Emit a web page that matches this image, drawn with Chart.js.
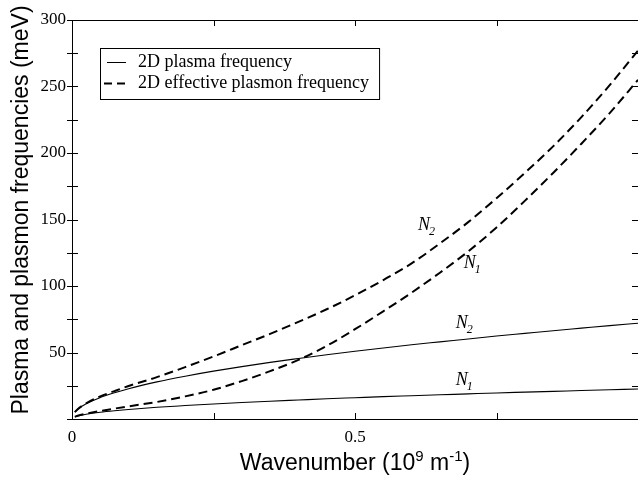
<!DOCTYPE html>
<html>
<head>
<meta charset="utf-8">
<script src="https://cdn.jsdelivr.net/npm/chart.js@4.4.1/dist/chart.umd.min.js"></script>
<style>
    html, body { margin: 0; padding: 0; background: #fff; overflow: hidden; }
    #wrap { width: 646px; height: 485px; }
</style>
</head>
<body>
<div id="wrap"><canvas id="grafica" width="646" height="485"></canvas></div>
<script>

// ============================
// DATOS
// ============================

const wavenumber = [0.005, 0.01, 0.025, 0.05, 0.075, 0.1, 0.15, 0.2, 0.25, 0.3, 0.35, 0.4,
                    0.45, 0.5, 0.55, 0.6, 0.65, 0.7, 0.75, 0.8, 0.85, 0.9, 0.95, 1.0];

// 2D plasma frequency (solid)
const plasmaN1 = [1.6, 2.3, 3.6, 5.1, 6.2, 7.1, 8.8, 10.1, 11.3, 12.4, 13.4, 14.3,
                  15.2, 16.0, 16.8, 17.5, 18.2, 18.9, 19.6, 20.2, 20.8, 21.4, 22.0, 22.6];
const plasmaN2 = [5.1, 7.2, 11.4, 16.1, 19.7, 22.8, 27.9, 32.2, 36.0, 39.4, 42.6, 45.5,
                  48.3, 50.9, 53.4, 55.8, 58.0, 60.2, 62.4, 64.4, 66.4, 68.3, 70.2, 72.0];

// 2D effective plasmon frequency (dashed)
const plasmonN1 = [1.7, 2.5, 4.0, 6.0, 7.8, 9.5, 12.8, 17.0, 22.0, 28.5, 36.0, 44.4,
                   55.0, 67.5, 81.0, 95.0, 110, 126, 144, 164, 185, 207, 230, 255];
const plasmonN2 = [5.2, 7.4, 11.8, 17.0, 21.0, 24.8, 31.5, 39.0, 47.0, 55.5, 64.0, 73.0,
                   82.5, 93.0, 104.5, 117, 132, 148, 166, 185, 205, 227, 251, 277];

const legendLabels = ["2D plasma frequency", "2D effective plasmon frequency"];

const xTicksMajor = [0, 0.5, 1];
const xTicksMinor = [0.25, 0.75];
const yTicksMajor = [0, 50, 100, 150, 200, 250, 300];
const yTicksMinor = [25, 75, 125, 175, 225, 275];
const xTickLabels = { 0: "0", 0.5: "0.5" };

const yTitle = "Plasma and plasmon frequencies (meV)";
// titulo x por partes: [texto, superindice]
const xTitle = [["Wavenumber (10", false], ["9", true], [" m", false], ["-1", true], [")", false]];

// etiquetas N sobre las curvas: [x, y, subindice]
const curveLabels = [
    [0.627, 146, "2"],
    [0.708, 117, "1"],
    [0.694, 72, "2"],
    [0.694, 29, "1"]
];

const SERIF = "'Liberation Serif', 'Times New Roman', serif";
const SANS = "'Liberation Sans', Arial, sans-serif";


// ============================
// PLUGINS
// ============================

const marcoPlugin = {
    id: "marco",
    afterDraw(chart) {
        const { ctx, chartArea: a, scales: { x, y } } = chart;
        ctx.save();
        ctx.strokeStyle = "#000";
        ctx.lineWidth = 1;
        ctx.strokeRect(a.left + 0.5, a.top + 0.5, a.right - a.left, a.bottom - a.top);

        ctx.beginPath();
        [...yTicksMajor, ...yTicksMinor].forEach(v => {
            const py = Math.round(y.getPixelForValue(v)) + 0.5;
            ctx.moveTo(a.left - 5, py); ctx.lineTo(a.left + 6, py);
            ctx.moveTo(a.right - 6, py); ctx.lineTo(a.right, py);
        });
        [...xTicksMajor, ...xTicksMinor].forEach(v => {
            const px = Math.round(x.getPixelForValue(v)) + 0.5;
            ctx.moveTo(px, a.bottom); ctx.lineTo(px, a.bottom - 6);
            ctx.moveTo(px, a.top); ctx.lineTo(px, a.top + 6);
        });
        ctx.stroke();
        ctx.restore();
    }
};

const titulosPlugin = {
    id: "titulos",
    afterDraw(chart) {
        const { ctx, chartArea: a } = chart;
        ctx.save();
        ctx.fillStyle = "#000";

        // eje y, girado
        ctx.font = "23px " + SANS;
        ctx.translate(22, 210);
        ctx.rotate(-Math.PI / 2);
        ctx.textAlign = "center";
        ctx.textBaseline = "middle";
        ctx.fillText(yTitle, 0, 0);
        ctx.setTransform(1, 0, 0, 1, 0, 0);

        // eje x, con superindices
        ctx.textAlign = "left";
        ctx.textBaseline = "alphabetic";
        const fuente = sup => (sup ? "15px " : "23px ") + SANS;
        let total = 0;
        xTitle.forEach(([t, sup]) => { ctx.font = fuente(sup); total += ctx.measureText(t).width; });
        let px = (a.left + 638) / 2 - total / 2;
        const base = 470;
        xTitle.forEach(([t, sup]) => {
            ctx.font = fuente(sup);
            ctx.fillText(t, px, sup ? base - 9 : base);
            px += ctx.measureText(t).width;
        });
        ctx.restore();
    }
};

const leyendaPlugin = {
    id: "leyenda",
    afterDraw(chart) {
        const { ctx } = chart;
        const left = 100, top = 48;
        ctx.save();
        ctx.font = "18px " + SERIF;
        const w = Math.max(...legendLabels.map(t => ctx.measureText(t).width));
        ctx.strokeStyle = "#000";
        ctx.lineWidth = 1;
        ctx.strokeRect(left + 0.5, top + 0.5, w + 48, 51);

        const estilos = [
            { dash: [], width: 1, x0: 107, x1: 126 },
            { dash: [8, 5], width: 2, x0: 104, x1: 126 }
        ];
        legendLabels.forEach((t, i) => {
            const ly = top + 14 + i * 21;
            const e = estilos[i];
            ctx.setLineDash(e.dash);
            ctx.lineWidth = e.width;
            ctx.beginPath();
            ctx.moveTo(e.x0, ly + 0.5);
            ctx.lineTo(e.x1, ly + 0.5);
            ctx.stroke();
            ctx.setLineDash([]);
            ctx.fillStyle = "#000";
            ctx.textBaseline = "middle";
            ctx.fillText(t, 138, ly);
        });
        ctx.restore();
    }
};

const etiquetasPlugin = {
    id: "etiquetas",
    afterDraw(chart) {
        const { ctx, scales: { x, y } } = chart;
        ctx.save();
        ctx.fillStyle = "#000";
        ctx.textBaseline = "alphabetic";
        curveLabels.forEach(([vx, vy, sub]) => {
            const px = x.getPixelForValue(vx);
            const py = y.getPixelForValue(vy);
            ctx.font = "italic 18px " + SERIF;
            const wN = ctx.measureText("N").width;
            ctx.fillText("N", px - 9, py + 5);
            ctx.font = "italic 12px " + SERIF;
            ctx.fillText(sub, px - 10 + wN, py + 10);
        });
        ctx.restore();
    }
};


// ============================
// GRÁFICA
// ============================

const pares = arr => wavenumber.map((v, i) => ({ x: v, y: arr[i] }));

const serie = (label, arr, dash, width) => ({
    label: label,
    data: pares(arr),
    borderColor: "#000",
    borderWidth: width,
    borderDash: dash,
    pointRadius: 0,
    cubicInterpolationMode: "monotone",
    fill: false
});

const ctx = document.getElementById("grafica").getContext("2d");

const chart = new Chart(ctx, {
    type: "line",
    data: {
        datasets: [
            serie("2D plasma frequency N1", plasmaN1, [], 1.1),
            serie("2D plasma frequency N2", plasmaN2, [], 1.1),
            serie("2D effective plasmon frequency N1", plasmonN1, [9, 5], 2),
            serie("2D effective plasmon frequency N2", plasmonN2, [9, 5], 2)
        ]
    },
    options: {
        responsive: false,
        devicePixelRatio: 1,
        animation: false,
        layout: { padding: { top: 20, right: 2, left: 0, bottom: 0 } },
        plugins: {
            legend: { display: false },
            tooltip: { enabled: false }
        },
        scales: {
            x: {
                type: "linear",
                min: 0,
                max: 1,
                afterFit: s => { s.height = 66; },
                grid: { display: false, drawTicks: false },
                border: { display: false },
                ticks: {
                    stepSize: 0.5,
                    padding: 8,
                    color: "#000",
                    font: { family: SERIF, size: 17 },
                    maxRotation: 0,
                    callback: v => xTickLabels[v] ?? ""
                }
            },
            y: {
                min: 0,
                max: 300,
                afterFit: s => { s.width = 72; },
                grid: { display: false, drawTicks: false },
                border: { display: false },
                ticks: {
                    stepSize: 50,
                    padding: 6,
                    color: "#000",
                    font: { family: SERIF, size: 17 },
                    callback: v => (v === 0 ? "" : v)
                }
            }
        }
    },
    plugins: [marcoPlugin, titulosPlugin, leyendaPlugin, etiquetasPlugin]
});
</script>
</body>
</html>
